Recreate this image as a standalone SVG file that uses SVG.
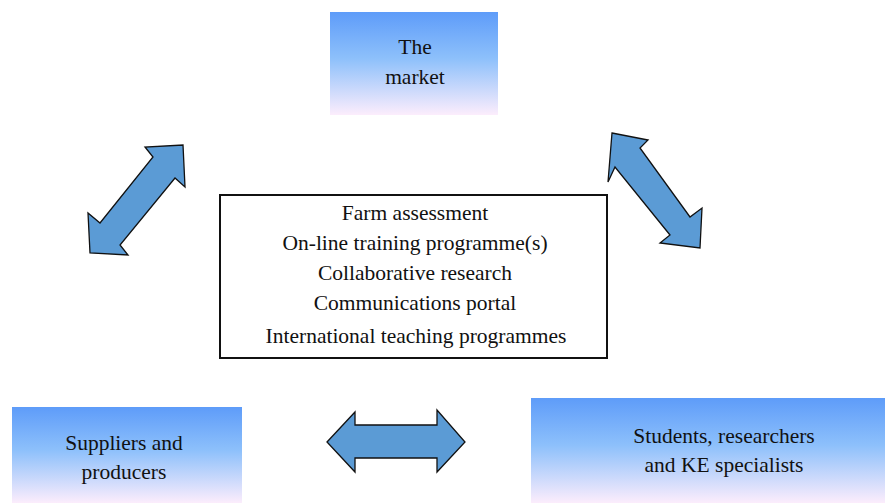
<svg xmlns="http://www.w3.org/2000/svg" width="885" height="503" viewBox="0 0 885 503">
<defs>
<linearGradient id="g" x1="0" y1="0" x2="0" y2="1">
<stop offset="0" stop-color="#5e9cf9"/>
<stop offset="0.45" stop-color="#8dc0fb"/>
<stop offset="1" stop-color="#fcedfc"/>
</linearGradient>
</defs>
<style>
.box{fill:url(#g);stroke:none}
.t{font-family:"Liberation Serif","Times New Roman",serif;font-size:21.5px;fill:#111;text-anchor:middle}
.arr{fill:#5b9bd5;stroke:#111;stroke-width:1.3;stroke-linejoin:miter}
</style>
<rect width="885" height="503" fill="#fff"/>
<g id="market">
<rect class="box" x="330" y="12" width="168" height="103"/>
<text class="t" x="415" y="54">The</text>
<text class="t" x="415" y="84">market</text>
</g>
<g id="activities">
<rect x="220" y="195" width="387" height="163" fill="#fff" stroke="#111" stroke-width="2"/>
<text class="t" x="415" y="220">Farm assessment</text>
<text class="t" x="415" y="250">On-line training programme(s)</text>
<text class="t" x="415" y="280">Collaborative research</text>
<text class="t" x="415" y="310">Communications portal</text>
<text class="t" x="416" y="343">International teaching programmes</text>
</g>
<g id="suppliers">
<rect class="box" x="12" y="407" width="230" height="96"/>
<text class="t" x="124" y="450">Suppliers and</text>
<text class="t" x="124" y="479">producers</text>
</g>
<g id="students">
<rect class="box" x="531" y="398" width="354" height="105"/>
<text class="t" x="724" y="443">Students, researchers</text>
<text class="t" x="724" y="472">and KE specialists</text>
</g>
<g id="connectors">
<polygon class="arr" points="183,145 185,187 175,178 120,245 128,255 90,253 88,213 100,223 153,157 145,147"/>
<polygon class="arr" points="612,133 648,140 640,148 690,217 702,208 700,248 660,243 670,235 615,167 608,182"/>
<polygon class="arr" points="327,442 355,412 355,425 437,425 437,410 465,442 437,472 437,458 355,458 355,472"/>
</g>
</svg>
